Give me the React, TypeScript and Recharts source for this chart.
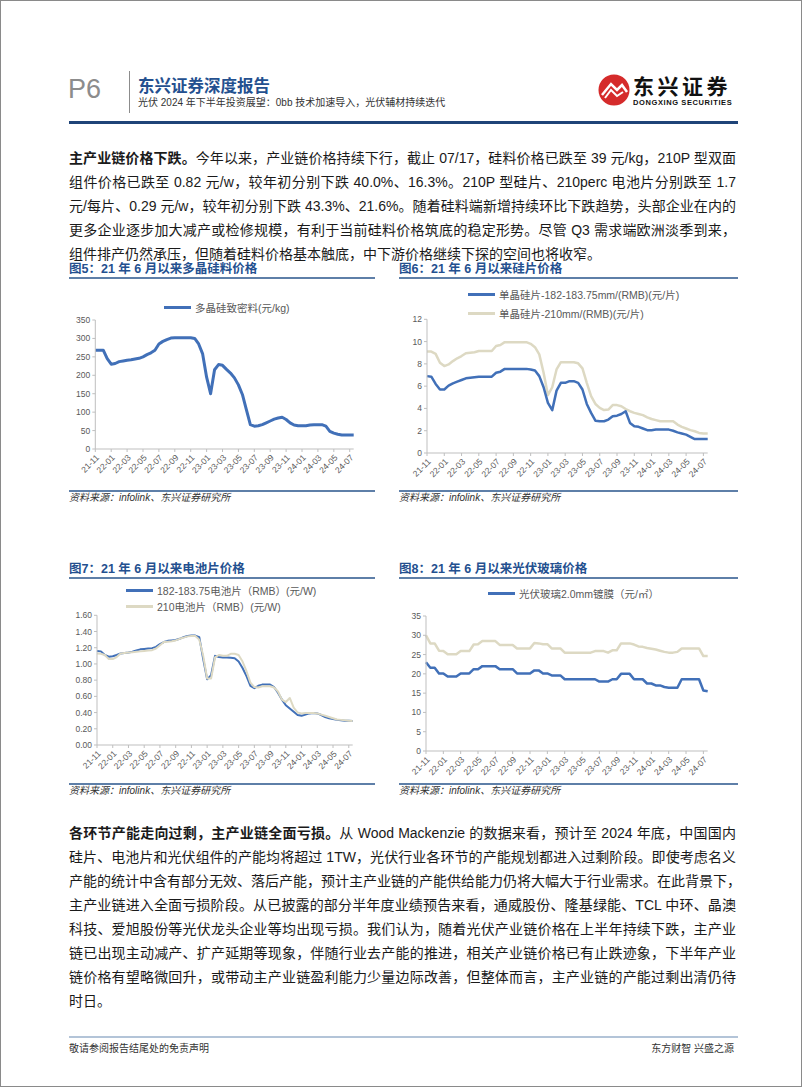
import { LineChart, Line, XAxis, YAxis, Legend } from 'recharts';

const FONT = '"Liberation Sans", Arial, "Noto Sans CJK SC", sans-serif';
const BLUE = '#4170B8';
const BEIGE = '#DDD9C3';
const NAVY = '#24508F';

// half-month steps since 2021-11
const PERIODS = [
  0, 0.5, 1, 1.5, 2, 2.5, 3, 3.5, 4, 4.5, 5, 5.5, 6, 6.5, 7, 7.5, 8, 8.5, 9, 9.5, 10, 10.5,
  11, 11.5, 12, 12.5, 13, 13.5, 14, 14.5, 15, 15.5, 16, 16.5, 17, 17.5, 18, 18.5, 19, 19.5,
  20, 20.5, 21, 21.5, 22, 22.5, 23, 23.5, 24, 24.5, 25, 25.5, 26, 26.5, 27, 27.5, 28, 28.5,
  29, 29.5, 30, 30.5, 31, 31.5, 32, 32.5,
];
const MONTH_LABELS = [
  '21-11', '22-01', '22-03', '22-05', '22-07', '22-09', '22-11', '23-01', '23-03',
  '23-05', '23-07', '23-09', '23-11', '24-01', '24-03', '24-05', '24-07',
];
const MONTH_TICKS = [0, 2, 4, 6, 8, 10, 12, 14, 16, 18, 20, 22, 24, 26, 28, 30, 32];

// 图5 多晶硅致密料 (元/kg)
const polysilicon = [
  268, 268, 268, 245, 230, 232, 237, 239, 241, 242, 244, 246, 250, 256, 261, 268, 285, 292,
  297, 301, 302, 302, 302, 302, 302, 300, 285, 258, 195, 150, 215, 229, 227, 216, 206, 193,
  174, 148, 107, 66, 62, 63, 66, 71, 76, 81, 84, 86, 80, 71, 65, 63, 63, 63, 65, 66, 66, 66,
  62, 48, 43, 40, 38, 38, 38, 38,
];

// 图6 硅片 (元/片)
const wafer182 = [
  6.9, 6.85, 6.2, 5.7, 5.7, 6.05, 6.25, 6.4, 6.55, 6.7, 6.75, 6.8, 6.85, 6.85, 6.85, 6.85,
  7.2, 7.3, 7.55, 7.55, 7.55, 7.55, 7.55, 7.55, 7.5, 7.4, 6.9, 5.9, 4.5, 3.85, 5.6, 6.3, 6.3,
  6.45, 6.45, 6.3, 5.7, 4.4, 3.6, 2.9, 2.85, 2.85, 3.0, 3.3, 3.35, 3.5, 3.75, 2.7, 2.4, 2.35,
  2.2, 2.05, 2.05, 2.1, 2.1, 2.1, 2.1, 2.0, 1.85, 1.75, 1.65, 1.45, 1.25, 1.25, 1.25, 1.25,
];
const wafer210 = [
  9.1, 9.1, 8.9, 8.1, 7.8, 7.95, 8.25, 8.5, 8.7, 8.95, 9.0, 9.05, 9.15, 9.15, 9.15, 9.15,
  9.6, 9.7, 9.95, 9.95, 9.95, 9.95, 9.95, 9.95, 9.8, 9.5, 8.85, 7.2, 5.2, 5.9, 7.5, 8.15, 8.15,
  8.15, 8.15, 8.05, 7.6, 6.3, 5.1, 4.4, 4.05, 3.85, 3.9, 4.3, 4.3, 4.2, 3.95, 3.75, 3.6, 3.5,
  3.4, 3.2, 3.05, 2.95, 2.85, 2.85, 2.85, 2.85, 2.55, 2.35, 2.2, 2.05, 1.95, 1.8, 1.75, 1.75,
];

// 图7 电池片 (元/W)
const cell182 = [
  1.16, 1.155, 1.11, 1.09, 1.095, 1.11, 1.13, 1.135, 1.14, 1.15, 1.165, 1.18, 1.185, 1.19,
  1.195, 1.21, 1.245, 1.27, 1.285, 1.29, 1.295, 1.31, 1.33, 1.345, 1.35, 1.35, 1.33, 1.06,
  0.81, 0.86, 1.1, 1.085, 1.08, 1.08, 1.075, 1.07, 1.03, 0.95, 0.85, 0.73, 0.7, 0.73, 0.745,
  0.745, 0.745, 0.715, 0.645, 0.56, 0.49, 0.45, 0.41, 0.37, 0.36, 0.375, 0.39, 0.395, 0.39,
  0.37, 0.345, 0.33, 0.32, 0.31, 0.305, 0.3, 0.3, 0.295,
];
const cell210 = [
  1.13, 1.125, 1.11, 1.06, 1.06, 1.085, 1.13, 1.135, 1.14, 1.145, 1.15, 1.155, 1.16, 1.165,
  1.17, 1.19, 1.23, 1.27, 1.275, 1.28, 1.29, 1.31, 1.325, 1.34, 1.345, 1.345, 1.3, 1.1, 0.82,
  0.82, 1.08, 1.11, 1.1, 1.1, 1.125, 1.125, 1.11, 1.03, 0.91, 0.77, 0.715, 0.71, 0.725, 0.725,
  0.725, 0.71, 0.66, 0.56, 0.53, 0.58, 0.46, 0.4, 0.39, 0.395, 0.395, 0.395, 0.39, 0.375,
  0.36, 0.345, 0.33, 0.315, 0.31, 0.305, 0.3, 0.295,
];

// 图8 光伏玻璃 (元/㎡)
const glass20 = [
  23.0, 21.6, 21.6, 20.1, 20.1, 19.3, 19.3, 19.3, 20.1, 20.1, 20.1, 21.2, 21.2, 22.0, 22.0,
  22.0, 22.0, 21.2, 21.2, 21.2, 21.2, 20.1, 20.1, 20.1, 20.1, 20.9, 20.9, 20.1, 20.1, 19.6,
  19.6, 19.6, 18.6, 18.6, 18.6, 18.6, 18.6, 18.6, 18.6, 18.6, 18.0, 18.0, 18.0, 18.6, 18.6,
  20.0, 20.0, 20.0, 18.6, 18.6, 18.6, 17.5, 17.5, 17.0, 17.0, 16.6, 16.4, 16.4, 16.4, 18.6,
  18.6, 18.6, 18.6, 18.6, 15.7, 15.5,
];
const glass32 = [
  30.0, 27.9, 27.9, 26.0, 25.9, 25.1, 25.1, 25.1, 25.9, 25.9, 25.9, 27.6, 27.7, 28.5, 28.5,
  28.5, 28.5, 27.5, 27.5, 27.5, 27.5, 26.6, 26.6, 26.6, 26.6, 28.0, 27.9, 27.7, 27.7, 26.6,
  26.6, 26.6, 25.5, 25.5, 25.5, 25.5, 25.5, 25.5, 25.5, 25.9, 25.9, 25.9, 25.5, 26.1, 26.1,
  27.9, 27.9, 27.9, 27.6, 27.1, 27.0, 26.7, 26.5, 26.3, 26.0, 25.7, 25.5, 25.5, 25.7, 26.6,
  26.6, 26.6, 26.6, 26.6, 24.6, 24.6,
];

type SeriesDef = { key: string; values: number[]; color: string; width: number };
type LegendItem = { label: string; color: string };

interface PriceChartProps {
  left: number;
  top: number;
  width: number;
  height: number;
  margin: { top: number; right: number; left: number; bottom: number };
  yTicks: number[];
  yFormat?: (v: number) => string;
  series: SeriesDef[];
  legend: LegendItem[];
  legendX: number;
  legendY: number;
  legendGap?: number;
}

function PriceChart({
  left, top, width, height, margin, yTicks, yFormat, series, legend, legendX, legendY, legendGap = 19,
}: PriceChartProps) {
  const data = PERIODS.map((m, i) => {
    const row: Record<string, number> = { m };
    series.forEach((s) => (row[s.key] = s.values[i]));
    return row;
  });

  const renderLegend = () => (
    <div style={{ position: 'relative', width: 0, height: 0 }}>
      {legend.map((it, i) => (
        <div
          key={it.label}
          style={{
            position: 'absolute',
            left: legendX,
            top: legendY + i * legendGap - 8,
            height: 16,
            display: 'flex',
            alignItems: 'center',
            whiteSpace: 'nowrap',
          }}
        >
          <span style={{ display: 'inline-block', width: 27, height: 3, background: it.color }} />
          <span style={{ marginLeft: 4, fontSize: 10.5, color: '#595959', fontFamily: FONT }}>{it.label}</span>
        </div>
      ))}
    </div>
  );

  return (
    <div style={{ position: 'absolute', left, top }}>
      <LineChart width={width} height={height} data={data} margin={margin} style={{ fontFamily: FONT }}>
        <Legend content={renderLegend} wrapperStyle={{ left: 0, top: 0, width: 0, height: 0 }} />
        <XAxis
          dataKey="m"
          type="number"
          domain={[0, 32.5]}
          ticks={MONTH_TICKS}
          tickFormatter={(v: number) => MONTH_LABELS[v / 2]}
          interval={0}
          height={32}
          angle={-45}
          textAnchor="end"
          stroke="#BFBFBF"
          tickSize={3}
          tick={{ fontSize: 8.5, fill: '#595959' }}
        />
        <YAxis
          type="number"
          width={30}
          domain={[yTicks[0], yTicks[yTicks.length - 1]]}
          ticks={yTicks}
          interval={0}
          tickFormatter={yFormat}
          stroke="#BFBFBF"
          tickSize={3}
          tick={{ fontSize: 8.5, fill: '#595959' }}
        />
        {series.map((s) => (
          <Line
            key={s.key}
            dataKey={s.key}
            type="linear"
            stroke={s.color}
            strokeWidth={s.width}
            dot={false}
            strokeLinejoin="round"
            isAnimationActive={false}
          />
        ))}
      </LineChart>
    </div>
  );
}

const P1 = [
  '今年以来，产业链价格持续下行，截止 07/17，硅料价格已跌至 39 元/kg，210P 型双面',
  '组件价格已跌至 0.82 元/w，较年初分别下跌 40.0%、16.3%。210P 型硅片、210perc 电池片分别跌至 1.7',
  '元/每片、0.29 元/w，较年初分别下跌 43.3%、21.6%。随着硅料端新增持续环比下跌趋势，头部企业在内的',
  '更多企业逐步加大减产或检修规模，有利于当前硅料价格筑底的稳定形势。尽管 Q3 需求端欧洲淡季到来，',
  '组件排产仍然承压，但随着硅料价格基本触底，中下游价格继续下探的空间也将收窄。',
];
const P2 = [
  '从 Wood Mackenzie 的数据来看，预计至 2024 年底，中国国内',
  '硅片、电池片和光伏组件的产能均将超过 1TW，光伏行业各环节的产能规划都进入过剩阶段。即使考虑名义',
  '产能的统计中含有部分无效、落后产能，预计主产业链的产能供给能力仍将大幅大于行业需求。在此背景下，',
  '主产业链进入全面亏损阶段。从已披露的部分半年度业绩预告来看，通威股份、隆基绿能、TCL 中环、晶澳',
  '科技、爱旭股份等光伏龙头企业等均出现亏损。我们认为，随着光伏产业链价格在上半年持续下跌，主产业',
  '链已出现主动减产、扩产延期等现象，伴随行业去产能的推进，相关产业链价格已有止跌迹象，下半年产业',
  '链价格有望略微回升，或带动主产业链盈利能力少量边际改善，但整体而言，主产业链的产能过剩出清仍待',
  '时日。',
];

function Paragraph({ lines, lead, top }: { lines: string[]; lead: string; top: number }) {
  return (
    <>
      {lines.map((t, i) => (
        <div
          key={i}
          style={{
            position: 'absolute',
            left: 68,
            top: top + i * 24 - 10,
            width: 667,
            height: 20,
            lineHeight: '20px',
            fontSize: 14,
            color: '#1a1a1a',
            fontFamily: FONT,
            whiteSpace: 'nowrap',
            textAlign: 'justify',
            textAlignLast: i === lines.length - 1 ? 'left' : 'justify',
          }}
        >
          {i === 0 && <b>{lead}</b>}
          {t}
        </div>
      ))}
    </>
  );
}

function ChartFrame({ left, width, top, title, sourceTop }: { left: number; width: number; top: number; title: string; sourceTop: number }) {
  return (
    <>
      <div style={{ position: 'absolute', left, top: top - 9, fontSize: 12.5, fontWeight: 700, color: NAVY, fontFamily: FONT, whiteSpace: 'nowrap', lineHeight: '18px' }}>
        {title}
      </div>
      <div style={{ position: 'absolute', left, top: top + 8, width, height: 1.5, background: '#5E7FA8' }} />
      <div style={{ position: 'absolute', left, top: sourceTop, width, height: 1.5, background: '#5E7FA8' }} />
      <div style={{ position: 'absolute', left, top: sourceTop + 1, fontSize: 10, fontStyle: 'italic', color: '#333', fontFamily: FONT, lineHeight: '14px' }}>
        资料来源：infolink、东兴证券研究所
      </div>
    </>
  );
}

export default function App() {
  return (
    <div style={{ position: 'absolute', left: 0, top: 0, width: 802, height: 1087, background: '#fff', boxSizing: 'border-box', border: '1px solid #8a8a8a', overflow: 'hidden', fontFamily: FONT }}>
      {/* header */}
      <div style={{ position: 'absolute', left: 67, top: 72, fontSize: 27, color: '#8c8c8c', lineHeight: '32px' }}>P6</div>
      <div style={{ position: 'absolute', left: 128, top: 70, width: 1, height: 42, background: '#8c8c8c' }} />
      <div style={{ position: 'absolute', left: 137, top: 74, fontSize: 16.5, fontWeight: 700, color: NAVY, lineHeight: '22px' }}>东兴证券深度报告</div>
      <div style={{ position: 'absolute', left: 137, top: 95, fontSize: 10, color: '#333', lineHeight: '14px', whiteSpace: 'nowrap' }}>
        光伏 2024 年下半年投资展望：0bb 技术加速导入，光伏辅材持续迭代
      </div>
      <svg style={{ position: 'absolute', left: 596, top: 72 }} width={34} height={34}>
        <circle cx={17} cy={17} r={15.5} fill="#D52B2B" />
        <path d="M5 22 L14 11 L20 17 L25 12 L30 19" stroke="#fff" strokeWidth={2.5} fill="none" />
        <path d="M8 25 L14 17 L20 23 L26 19" stroke="#fff" strokeWidth={2} fill="none" />
      </svg>
      <div style={{ position: 'absolute', left: 632, top: 74, fontSize: 21, fontWeight: 700, color: '#111', lineHeight: '24px', letterSpacing: 3.5 }}>东兴证券</div>
      <div style={{ position: 'absolute', left: 632, top: 97, fontSize: 7.5, fontWeight: 700, color: '#111', lineHeight: '9px', whiteSpace: 'nowrap', letterSpacing: 0.6 }}>DONGXING SECURITIES</div>
      <div style={{ position: 'absolute', left: 68, top: 120, width: 669, height: 3, background: '#1F4478' }} />

      <Paragraph lines={P1} lead="主产业链价格下跌。" top={157} />

      <ChartFrame left={68} width={306} top={268} title="图5：21 年 6 月以来多晶硅料价格" sourceTop={489} />
      <ChartFrame left={398} width={339} top={268} title="图6：21 年 6 月以来硅片价格" sourceTop={489} />
      <ChartFrame left={68} width={306} top={568} title="图7：21 年 6 月以来电池片价格" sourceTop={782} />
      <ChartFrame left={398} width={339} top={568} title="图8：21 年 6 月以来光伏玻璃价格" sourceTop={782} />

      <PriceChart
        left={60}
        top={290}
        width={300}
        height={190}
        margin={{ top: 29, right: 7.3, left: 4.3, bottom: 0 }}
        yTicks={[0, 50, 100, 150, 200, 250, 300, 350]}
        series={[{ key: 'poly', values: polysilicon, color: BLUE, width: 3 }]}
        legend={[{ label: '多晶硅致密料(元/kg)', color: BLUE }]}
        legendX={103}
        legendY={16}
      />
      <PriceChart
        left={395}
        top={280}
        width={320}
        height={204}
        margin={{ top: 38.3, right: 8.3, left: 1, bottom: 0 }}
        yTicks={[0, 2, 4, 6, 8, 10, 12]}
        series={[
          { key: 'w210', values: wafer210, color: BEIGE, width: 2.5 },
          { key: 'w182', values: wafer182, color: BLUE, width: 2.5 },
        ]}
        legend={[
          { label: '单晶硅片-182-183.75mm/(RMB)(元/片)', color: BLUE },
          { label: '单晶硅片-210mm/(RMB)(元/片)', color: BEIGE },
        ]}
        legendX={72}
        legendY={13}
      />
      <PriceChart
        left={60}
        top={580}
        width={300}
        height={196}
        margin={{ top: 34.3, right: 8.3, left: 6, bottom: 0 }}
        yTicks={[0, 0.2, 0.4, 0.6, 0.8, 1.0, 1.2, 1.4, 1.6]}
        yFormat={(v: number) => v.toFixed(2)}
        series={[
          { key: 'c182', values: cell182, color: BLUE, width: 2 },
          { key: 'c210', values: cell210, color: BEIGE, width: 2 },
        ]}
        legend={[
          { label: '182-183.75电池片（RMB）(元/W)', color: BLUE },
          { label: '210电池片（RMB）(元/W)', color: BEIGE },
        ]}
        legendX={65}
        legendY={9}
        legendGap={16}
      />
      <PriceChart
        left={395}
        top={580}
        width={320}
        height={202}
        margin={{ top: 35, right: 8.3, left: 0, bottom: 0 }}
        yTicks={[0, 5, 10, 15, 20, 25, 30, 35]}
        series={[
          { key: 'g32', values: glass32, color: BEIGE, width: 2.5 },
          { key: 'g20', values: glass20, color: BLUE, width: 2.5 },
        ]}
        legend={[{ label: '光伏玻璃2.0mm镀膜（元/㎡）', color: BLUE }]}
        legendX={92}
        legendY={12}
      />

      <Paragraph lines={P2} lead="各环节产能走向过剩，主产业链全面亏损。" top={832} />

      {/* footer */}
      <div style={{ position: 'absolute', left: 68, top: 1035, width: 669, height: 2, background: '#B3C4D8' }} />
      <div style={{ position: 'absolute', left: 68, top: 1041, fontSize: 10, color: '#333', lineHeight: '14px' }}>敬请参阅报告结尾处的免责声明</div>
      <div style={{ position: 'absolute', right: 802 - 735, top: 1041, fontSize: 10, color: '#333', lineHeight: '14px' }}>东方财智 兴盛之源</div>
    </div>
  );
}
